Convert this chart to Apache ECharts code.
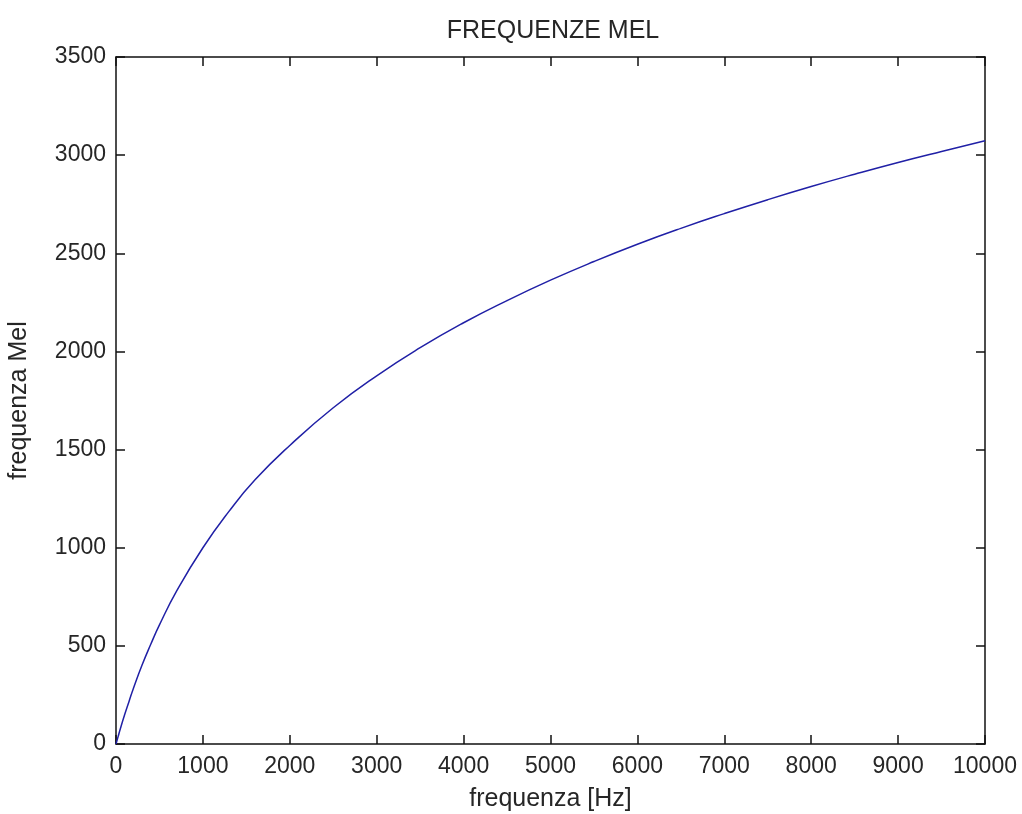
<!DOCTYPE html>
<html><head><meta charset="utf-8">
<script src="https://cdn.jsdelivr.net/npm/echarts@6/dist/echarts.min.js"></script>
<style>html,body{margin:0;padding:0;background:#fff}#c{width:1022px;height:814px}</style>
</head><body><div id="c"></div>
<script>
const freqHz = [0, 25, 50, 100, 150, 200, 300, 400, 500, 700, 1000, 1300, 1600, 2000, 2500, 3000, 3500, 4000, 4500, 5000, 5500, 6000, 6500, 7000, 7500, 8000, 8500, 9000, 9500, 10000];
const melValues = [0, 39, 78, 150, 217, 283, 402, 508, 607, 781, 1000, 1185, 1346, 1521, 1713, 1876, 2019, 2146, 2259, 2363, 2458, 2546, 2627, 2702, 2773, 2840, 2903, 2963, 3019, 3073];
const titleText = 'FREQUENZE MEL';
const xName = 'frequenza [Hz]';
const yName = 'frequenza Mel';

const chart = echarts.init(document.getElementById('c'), null, {renderer: 'canvas'});
const FF = 'Liberation Sans, Arial, sans-serif';
const lbl = {color: '#262626', fontFamily: FF, fontSize: 23};
const nameStyle = {color: '#262626', fontFamily: FF, fontSize: 25};
const axLine = {show: true, onZero: false, lineStyle: {color: '#111', width: 1.5}};
const tick = {show: true, inside: true, length: 9, lineStyle: {color: '#111', width: 1.5}};
const fmt = v => String(v);
chart.setOption({
  animation: false,
  backgroundColor: '#fff',
  title: {text: titleText, left: 548, top: 14, textAlign: 'center',
    textStyle: {color: '#262626', fontWeight: 'normal', fontFamily: FF, fontSize: 25}},
  grid: {left: 116, top: 57, width: 869, height: 687, containLabel: false, outerBoundsMode: 'none'},
  xAxis: [
    {type: 'value', min: 0, max: 10000, interval: 1000, position: 'bottom',
     name: xName, nameLocation: 'middle', nameGap: 43, nameTextStyle: nameStyle,
     axisLine: axLine, axisTick: tick, splitLine: {show: false},
     axisLabel: Object.assign({margin: 11, formatter: fmt}, lbl)},
    {type: 'value', min: 0, max: 10000, interval: 1000, position: 'top',
     axisLine: axLine, axisTick: tick, splitLine: {show: false}, axisLabel: {show: false}}
  ],
  yAxis: [
    {type: 'value', min: 0, max: 3500, interval: 500, position: 'left',
     name: yName, nameLocation: 'middle', nameGap: 84, nameTextStyle: nameStyle,
     axisLine: axLine, axisTick: tick, splitLine: {show: false},
     axisLabel: Object.assign({margin: 10, formatter: fmt}, lbl)},
    {type: 'value', min: 0, max: 3500, interval: 500, position: 'right',
     axisLine: axLine, axisTick: tick, splitLine: {show: false}, axisLabel: {show: false}}
  ],
  series: [{
    type: 'line', smooth: true, showSymbol: false,
    data: freqHz.map((f, i) => [f, melValues[i]]),
    lineStyle: {color: '#2020a6', width: 1.5}
  }]
});
</script></body></html>
